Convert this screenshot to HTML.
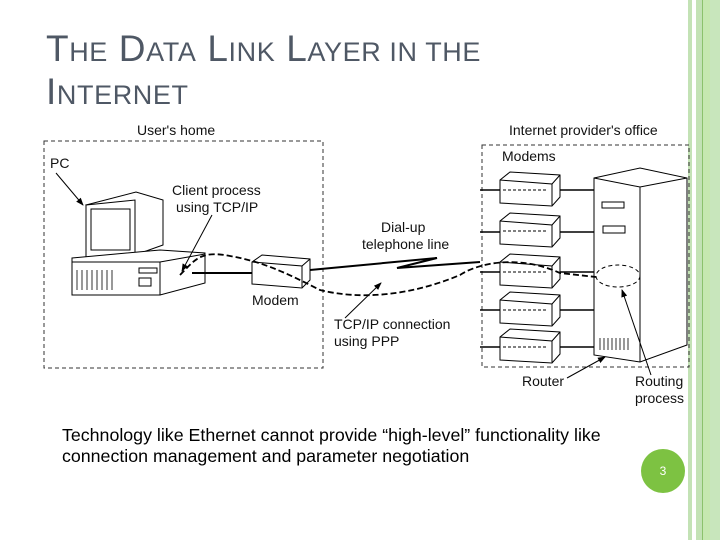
<!DOCTYPE html>
<html><head><meta charset="utf-8"><style>
body{margin:0;width:720px;height:540px;background:#fff;position:relative;overflow:hidden;font-family:"Liberation Sans",sans-serif}
.t{position:absolute;left:46px;color:#4f5865;font-size:37px;white-space:nowrap;line-height:1;letter-spacing:0.6px}
.t small{font-size:27px}
.s{position:absolute;left:62px;font-size:17.8px;color:#000;line-height:21px;white-space:nowrap}
</style></head><body>
<div class="t" style="top:30px">T<small>HE</small> D<small>ATA</small> L<small>INK</small> L<small>AYER IN THE</small></div>
<div class="t" style="top:73px">I<small>NTERNET</small></div>
<div style="position:absolute;left:688px;top:0;width:4px;height:540px;background:#c3e2b5"></div>
<div style="position:absolute;left:696px;top:0;width:6px;height:540px;background:#c3e2b5"></div>
<div style="position:absolute;left:702px;top:0;width:1px;height:540px;background:#8cc26c"></div>
<div style="position:absolute;left:703px;top:0;width:7px;height:540px;background:#c6e8b0"></div>
<div style="position:absolute;left:710px;top:0;width:10px;height:540px;background:#c8e6bc"></div>
<svg width="720" height="540" style="position:absolute;left:0;top:0" font-family="Liberation Sans, sans-serif" font-size="14">
<defs><marker id="a" markerWidth="8" markerHeight="8" refX="7" refY="4" orient="auto"><path d="M0,1 L8,4 L0,7z" fill="#000"/></marker></defs>
<g fill="none" stroke="#333" stroke-dasharray="4,3" stroke-width="1">
<rect x="44" y="141" width="279" height="227"/>
<rect x="482" y="145" width="207" height="222"/>
</g>
<g fill="#111">
<text x="137" y="135">User's home</text>
<text x="50" y="168">PC</text>
<text x="172" y="195">Client process</text>
<text x="176" y="212">using TCP/IP</text>
<text x="381" y="232">Dial-up</text>
<text x="362" y="249">telephone line</text>
<text x="252" y="305">Modem</text>
<text x="334" y="329">TCP/IP connection</text>
<text x="334" y="346">using PPP</text>
<text x="509" y="135">Internet provider's office</text>
<text x="502" y="161">Modems</text>
<text x="522" y="386">Router</text>
<text x="635" y="386">Routing</text>
<text x="635" y="403">process</text>
</g>
<g stroke="#000" fill="#fff" stroke-width="1">
<path d="M86,205 L136,192 L163,200 L163,245 L135,255 Z"/>
<path d="M86,205 L135,200 L135,255 L86,258 Z"/>
<rect x="91" y="209" width="39" height="41"/>
<path d="M72,258 L160,250 L205,253 L205,283 L160,295 L72,295 Z"/>
<path d="M72,262 L160,262 L160,295 L72,295 Z"/>
<path d="M160,262 L205,254"/>
<rect x="139" y="268" width="18" height="5"/>
<rect x="139" y="278" width="12" height="8"/>
<path d="M77,270v20 M82,270v20 M87,270v20 M92,270v20 M97,270v20 M102,270v20 M107,270v20 M112,270v20" stroke-width="0.8"/>
<path d="M252,262 L262,255 L310,259 L310,280 L302,288 L252,284 Z"/>
<path d="M252,262 L302,266 L302,288 M302,266 L310,259"/>
</g>
<g stroke="#000" stroke-width="2" fill="none">
<path d="M192,273 L252,273"/>
<path d="M310,270 L437,258 L397,268 L480,262"/>
<g stroke-width="1.5">
<path d="M480,190H500 M560,190H594 M480,232H500 M560,232H594 M480,272H500 M560,272H594 M480,310H500 M560,310H594 M480,347H500 M560,347H594"/>
</g>
</g>
<g stroke="#000" fill="#fff" stroke-width="1">
<g id="m"><path d="M500,180 L510,172 L560,175 L560,197 L552,206 L500,203 Z"/><path d="M500,180 L552,184 L552,206 M552,184 L560,175"/><path d="M503,190 h45" stroke-dasharray="3,2"/></g>
<use href="#m" y="41"/><use href="#m" y="82"/><use href="#m" y="120"/><use href="#m" y="157"/>
<path d="M594,178 L640,168 L687,178 L687,345 L640,362 L594,355 Z"/>
<path d="M594,178 L640,187 L687,178 M640,187 L640,362"/>
<rect x="602" y="202" width="22" height="6"/>
<rect x="603" y="226" width="22" height="7"/>
<path d="M600,338v12 M604,338v12 M608,338v12 M612,338v12 M616,338v12 M620,338v12 M624,338v12 M628,338v12" stroke-width="0.8"/>
</g>
<ellipse cx="618" cy="276" rx="22" ry="11" fill="none" stroke="#000" stroke-dasharray="4,3"/>
<path d="M180,275 C195,260 200,250 230,256 C265,262 290,275 320,290 C360,300 410,296 460,275 C480,262 520,255 560,273 L596,277" fill="none" stroke="#000" stroke-width="1.8" stroke-dasharray="6,3"/>
<g stroke="#000" stroke-width="1" fill="none" marker-end="url(#a)">
<path d="M56,173 L83,205"/>
<path d="M212,215 L182,271"/>
<path d="M345,318 L381,283"/>
<path d="M567,378 L605,357"/>
<path d="M651,375 L622,290"/>
</g>
</svg>
<div class="s" style="top:425px">Technology like Ethernet cannot provide “high-level” functionality like<br>connection management and parameter negotiation</div>
<div style="position:absolute;left:641px;top:449px;width:44px;height:44px;border-radius:50%;background:#7dc242;color:#fff;font-size:12px;text-align:center;line-height:44px">3</div>
</body></html>
